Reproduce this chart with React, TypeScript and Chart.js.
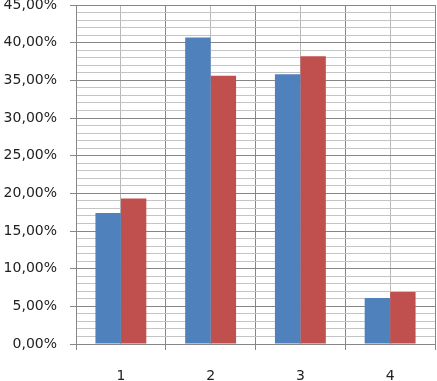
import React, { useEffect, useRef } from "react";
import { Chart, registerables } from "chart.js";

Chart.register(...registerables);

const categories = ["1", "2", "3", "4"];
const seriesA = [17.4, 40.7, 35.8, 6.1];
const seriesB = [19.3, 35.6, 38.2, 6.9];
const yMin = 0;
const yMax = 45;
const majorStep = 5;
const minorStep = 1;

const fmt = (v: number) => v.toFixed(2).replace(".", ",") + "%";

export default function App() {
  const ref = useRef<HTMLCanvasElement | null>(null);
  useEffect(() => {
    document.body.style.margin = "0";
    const ctx = ref.current!;
    const font = { family: "'DejaVu Sans', sans-serif", size: 14 };
    const chart = new Chart(ctx, {
      type: "bar",
      data: {
        labels: categories,
        datasets: [
          {
            label: "A",
            data: seriesA,
            backgroundColor: "#4F81BD",
            categoryPercentage: 0.567,
            barPercentage: 1,
            borderWidth: 0,
          },
          {
            label: "B",
            data: seriesB,
            backgroundColor: "#C0504D",
            categoryPercentage: 0.567,
            barPercentage: 1,
            borderWidth: 0,
          },
        ],
      },
      options: {
        responsive: false,
        animation: false,
        layout: { padding: { top: 5, right: 2, left: 0, bottom: 0 } },
        plugins: { legend: { display: false }, tooltip: { enabled: false } },
        scales: {
          x2: {
            type: "category",
            labels: categories,
            position: "top",
            offset: true,
            grid: { offset: false, color: "#b8b8b8", lineWidth: 1, drawTicks: false },
            ticks: { display: false },
            border: { display: false },
            afterFit: (s: any) => {
              s.height = 0;
            },
          },
          x: {
            type: "category",
            position: "bottom",
            offset: true,
            grid: { offset: true, color: "#868686", lineWidth: 1, tickLength: 6, tickColor: "#868686" },
            border: { display: true, color: "#868686", width: 1 },
            ticks: { color: "#222", font, padding: 18 },
            afterFit: (s: any) => {
              s.height = 37;
            },
          },
          y2: {
            type: "linear",
            position: "left",
            min: yMin,
            max: yMax,
            grid: {
              drawTicks: false,
              color: (c: any) => (c.tick && c.tick.value % majorStep === 0 ? "rgba(0,0,0,0)" : "#c4c4c4"),
              lineWidth: 1,
            },
            ticks: { display: false, stepSize: minorStep },
            border: { display: false },
            afterFit: (s: any) => {
              s.width = 0;
              s.paddingTop = 0;
              s.paddingBottom = 0;
            },
          },
          y: {
            type: "linear",
            position: "left",
            min: yMin,
            max: yMax,
            grid: { color: "#868686", lineWidth: 1, tickLength: 6, tickColor: "#868686" },
            border: { display: true, color: "#868686", width: 1 },
            ticks: {
              stepSize: majorStep,
              color: "#222",
              font,
              padding: 13,
              callback: (v: any) => fmt(Number(v)),
            },
            afterFit: (s: any) => {
              s.width = 76;
              s.paddingTop = 0;
              s.paddingBottom = 0;
            },
          },
        },
      },
    } as any);
    return () => chart.destroy();
  }, []);
  return (
    <div style={{ position: "absolute", left: 0, top: 0, width: 437, height: 381, background: "#fff" }}>
      <canvas ref={ref} width={437} height={381} style={{ display: "block" }} />
    </div>
  );
}
